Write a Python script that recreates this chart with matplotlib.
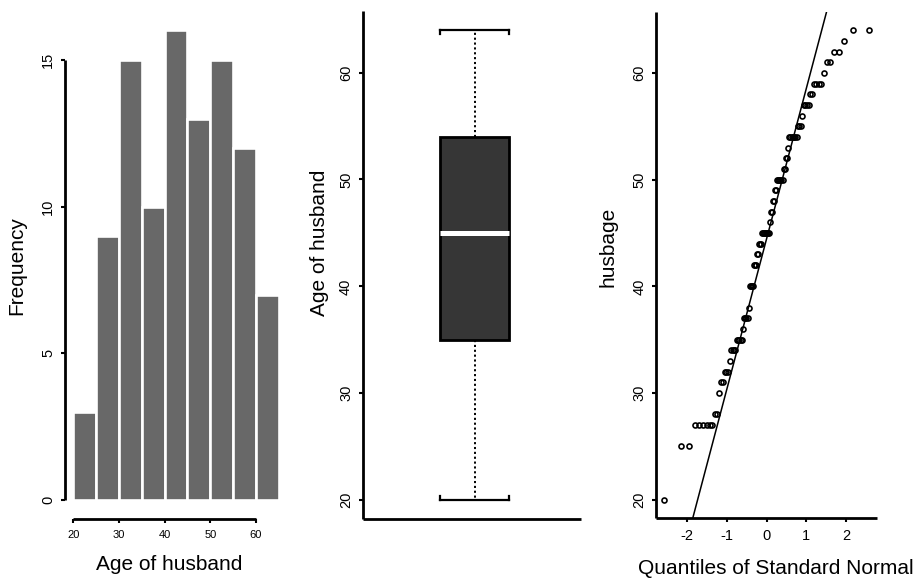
import numpy as np
import pandas as pd
import matplotlib
matplotlib.use("Agg")
import matplotlib.pyplot as plt
from statistics import NormalDist

# ages of the 100 husbands, as distinct values and how often each occurs
age_values = [20, 25, 27, 28, 30, 31, 32, 33, 34, 35, 36, 37, 38, 40, 42, 43, 44, 45,
              46, 47, 48, 49, 50, 51, 52, 53, 54, 55, 56, 57, 58, 59, 60, 61, 62, 63, 64]
age_counts = [1, 2, 6, 2, 1, 2, 3, 1, 4, 5, 1, 4, 1, 4, 3, 2, 3, 8,
              1, 2, 2, 2, 6, 2, 2, 1, 7, 3, 1, 4, 2, 4, 1, 2, 2, 1, 2]
bin_edges = [20, 25, 30, 35, 40, 45, 50, 55, 60, 65]
hist_ticks = [20, 30, 40, 50, 60]
hist_yticks = [0, 5, 10, 15]
age_ticks = [20, 30, 40, 50, 60]
qq_ticks = [-2, -1, 0, 1, 2]

husbage = np.repeat(age_values, age_counts)

plt.rcParams['font.family'] = ['Liberation Sans', 'DejaVu Sans']
plt.rcParams['axes.unicode_minus'] = False

W, H = 918, 578
fig = plt.figure(figsize=(W / 100, H / 100), dpi=100)


def rect(left, top, right, bottom):
    return [left / W, 1 - bottom / H, (right - left) / W, (bottom - top) / H]


def label(x, y, s, rot=0):
    fig.text(x / W, 1 - y / H, s, ha='center', va='center', rotation=rot, fontsize=15)


def style(ax, spine_lw=2.0):
    for s in ['top', 'right']:
        ax.spines[s].set_visible(False)
    for s in ['left', 'bottom']:
        ax.spines[s].set_linewidth(spine_lw)
        ax.spines[s].set_capstyle('butt')
    ax.tick_params(direction='out', length=3, width=1.5, labelsize=10.5)
    ax.tick_params(axis='y', labelrotation=90, pad=4)
    for t in ax.get_yticklabels():
        t.set_va('center')


# --- histogram ---
ax1 = fig.add_axes(rect(65, 11.7, 287, 519))
binned = pd.Series(pd.cut(husbage, bin_edges, right=True, include_lowest=True))
counts = binned.value_counts(sort=False).values
ax1.bar(bin_edges[:-1], counts, width=5, align='edge', color='#686868',
        edgecolor='white', linewidth=1.9)
ax1.set_xlim(18.2, 66.8)
ax1.set_ylim(-0.64, 16.64)
ax1.set_xticks(hist_ticks)
ax1.set_yticks(hist_yticks)
style(ax1)
ax1.spines['left'].set_bounds(0, 15)
ax1.spines['bottom'].set_bounds(20, 60)
ax1.tick_params(axis='x', labelsize=8, pad=5)
label(16.7, 266, 'Frequency', 90)
label(169, 564, 'Age of husband')

# --- boxplot ---
ax2 = fig.add_axes(rect(362.7, 11, 581, 519))
bp = ax2.boxplot(husbage, positions=[1.0], widths=0.316, whis=(0, 100),
                 patch_artist=True, showfliers=False, capwidths=0.316,
                 boxprops=dict(facecolor='#363636', edgecolor='black', linewidth=2.0),
                 medianprops=dict(color='white', linewidth=3.6, solid_capstyle='butt'),
                 whiskerprops=dict(color='black', linewidth=1.4, linestyle=(0, (1.1, 1.4))),
                 capprops=dict(color='black', linewidth=1.6))
# small hooks at the ends of each cap, pointing toward the box
for cap, sign in zip(bp['caps'], [1, -1]):
    cx = cap.get_xdata()
    cy = cap.get_ydata()[0]
    for x in cx:
        ax2.plot([x, x], [cy, cy + sign * 0.35], color='black', lw=1.6)
ax2.set_xlim(0.487, 1.487)
ax2.set_ylim(18.24, 65.76)
ax2.set_xticks([])
ax2.set_yticks(age_ticks)
style(ax2)
label(319.3, 243.3, 'Age of husband', 90)

# --- normal QQ plot ---
ax3 = fig.add_axes(rect(656.3, 11.7, 877.1, 518.3))
n = len(husbage)
nd = NormalDist()
theo = np.array([nd.inv_cdf((i - 0.5) / n) for i in range(1, n + 1)])
sample = np.sort(husbage)
ax3.plot(theo, sample, 'o', mfc='none', mec='black', ms=3.6, mew=1.2)
yq = np.percentile(sample, [25, 75])
xq = np.array([nd.inv_cdf(0.25), nd.inv_cdf(0.75)])
slope = (yq[1] - yq[0]) / (xq[1] - xq[0])
ax3.axline((xq[0], yq[0]), slope=slope, color='black', lw=1.1)
ax3.set_xlim(-2.782, 2.782)
ax3.set_ylim(18.24, 65.76)
ax3.set_xticks(qq_ticks)
ax3.set_yticks(age_ticks)
style(ax3)
ax3.tick_params(axis='x', pad=5)
label(608, 246.7, 'husbage', 90)
label(775.8, 568, 'Quantiles of Standard Normal')

fig.savefig('out.png', dpi=100)
